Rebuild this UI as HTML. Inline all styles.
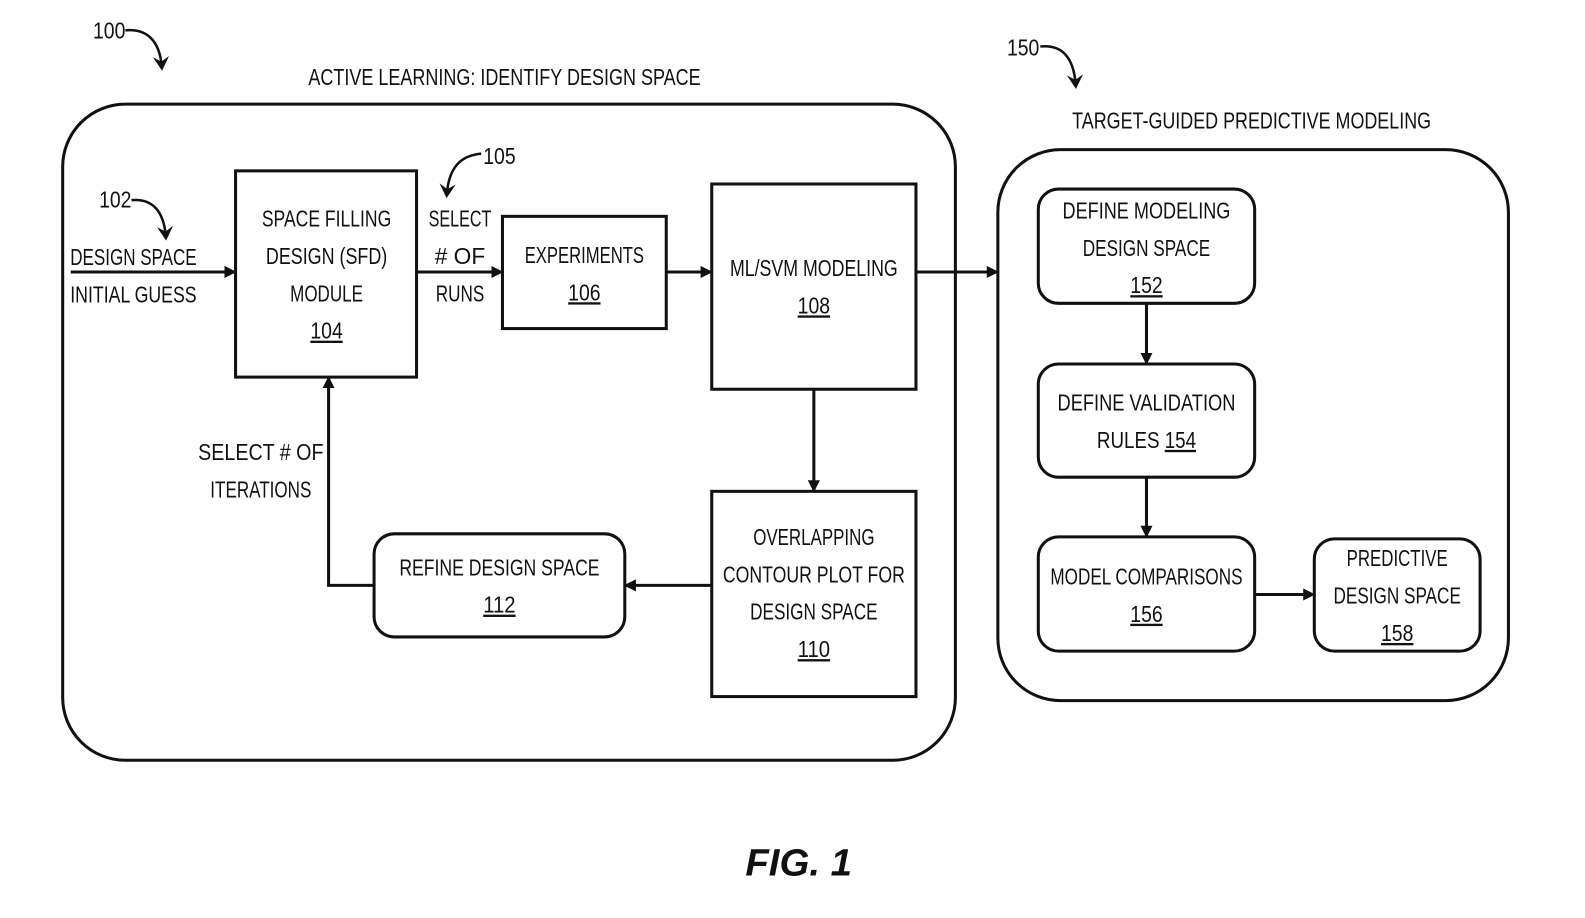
<!DOCTYPE html>
<html><head><meta charset="utf-8"><style>
html,body{margin:0;padding:0;background:#fff;}
svg{display:block;}
text{font-family:"Liberation Sans",sans-serif;font-size:23px;fill:#111;text-anchor:middle;}
</style></head><body>
<svg width="1585" height="918" viewBox="0 0 1585 918" xmlns="http://www.w3.org/2000/svg">
<defs>
<marker id="a" markerWidth="12" markerHeight="12" refX="11" refY="6" orient="auto" markerUnits="userSpaceOnUse">
<path d="M0,0 L12,6 L0,12 Z" fill="#111"/></marker>
<marker id="b" markerWidth="20" markerHeight="20" refX="10" refY="10" orient="auto" markerUnits="userSpaceOnUse">
<path d="M0,2 L14,10 L0,18 L5,10 Z" fill="#111"/></marker>
</defs>
<g transform="scale(1.011)">
<g fill="none" stroke="#111" stroke-width="3">
<rect x="62" y="103" width="883" height="649" rx="62"/>
<rect x="987" y="148" width="505" height="545" rx="62"/>
<rect x="233" y="169" width="179" height="204"/>
<rect x="497" y="214" width="162" height="111"/>
<rect x="704" y="182" width="202" height="203"/>
<rect x="704" y="486" width="202" height="203"/>
<rect x="370" y="528" width="248" height="102" rx="20"/>
<rect x="1027" y="187" width="214" height="113" rx="20"/>
<rect x="1027" y="360" width="214" height="112" rx="20"/>
<rect x="1027" y="531" width="214" height="113" rx="20"/>
<rect x="1300" y="533" width="164" height="111" rx="20"/>
</g>
<g stroke="#111" stroke-width="3" fill="none" marker-end="url(#a)">
<line x1="70" y1="269" x2="233" y2="269"/>
<line x1="412" y1="269" x2="497" y2="269"/>
<line x1="659" y1="269" x2="704" y2="269"/>
<line x1="906" y1="269" x2="987" y2="269"/>
<line x1="805" y1="385" x2="805" y2="486"/>
<line x1="704" y1="579" x2="618" y2="579"/>
<polyline points="370,579 325,579 325,373"/>
<line x1="1134" y1="300" x2="1134" y2="360"/>
<line x1="1134" y1="472" x2="1134" y2="531"/>
<line x1="1241" y1="588" x2="1300" y2="588"/>
</g>
<g stroke="#111" stroke-width="2.5" fill="none" marker-end="url(#b)">
<path d="M124,30 C145,28 158,40 160,66"/>
<path d="M1029,46 C1050,44 1062,56 1064,84"/>
<path d="M130,198 C150,196 162,208 164,234"/>
<path d="M476,152 C455,154 444,166 442,192"/>
</g>
<text x="108" y="38" textLength="32" lengthAdjust="spacingAndGlyphs">100</text>
<text x="1012" y="55" textLength="32" lengthAdjust="spacingAndGlyphs">150</text>
<text x="114" y="205" textLength="32" lengthAdjust="spacingAndGlyphs">102</text>
<text x="494" y="162" textLength="32" lengthAdjust="spacingAndGlyphs">105</text>
<text x="499" y="84" textLength="388" lengthAdjust="spacingAndGlyphs">ACTIVE LEARNING: IDENTIFY DESIGN SPACE</text>
<text x="1238" y="127" textLength="355" lengthAdjust="spacingAndGlyphs">TARGET-GUIDED PREDICTIVE MODELING</text>
<text x="132" y="262" textLength="125" lengthAdjust="spacingAndGlyphs">DESIGN SPACE</text>
<text x="132" y="299" textLength="125" lengthAdjust="spacingAndGlyphs">INITIAL GUESS</text>
<text x="455" y="224" textLength="62" lengthAdjust="spacingAndGlyphs">SELECT</text>
<text x="455" y="261" textLength="50" lengthAdjust="spacingAndGlyphs"># OF</text>
<text x="455" y="298" textLength="48" lengthAdjust="spacingAndGlyphs">RUNS</text>
<text x="258" y="455" textLength="124" lengthAdjust="spacingAndGlyphs">SELECT # OF</text>
<text x="258" y="492" textLength="100" lengthAdjust="spacingAndGlyphs">ITERATIONS</text>
<text x="323" y="224" textLength="128" lengthAdjust="spacingAndGlyphs">SPACE FILLING</text>
<text x="323" y="261" textLength="120" lengthAdjust="spacingAndGlyphs">DESIGN (SFD)</text>
<text x="323" y="298" textLength="72" lengthAdjust="spacingAndGlyphs">MODULE</text>
<text x="323" y="335" text-decoration="underline" textLength="32" lengthAdjust="spacingAndGlyphs">104</text>
<text x="578" y="260" textLength="118" lengthAdjust="spacingAndGlyphs">EXPERIMENTS</text>
<text x="578" y="297" text-decoration="underline" textLength="32" lengthAdjust="spacingAndGlyphs">106</text>
<text x="805" y="273" textLength="166" lengthAdjust="spacingAndGlyphs">ML/SVM MODELING</text>
<text x="805" y="310" text-decoration="underline" textLength="32" lengthAdjust="spacingAndGlyphs">108</text>
<text x="805" y="539" textLength="120" lengthAdjust="spacingAndGlyphs">OVERLAPPING</text>
<text x="805" y="576" textLength="180" lengthAdjust="spacingAndGlyphs">CONTOUR PLOT FOR</text>
<text x="805" y="613" textLength="126" lengthAdjust="spacingAndGlyphs">DESIGN SPACE</text>
<text x="805" y="650" text-decoration="underline" textLength="32" lengthAdjust="spacingAndGlyphs">110</text>
<text x="494" y="569" textLength="198" lengthAdjust="spacingAndGlyphs">REFINE DESIGN SPACE</text>
<text x="494" y="606" text-decoration="underline" textLength="32" lengthAdjust="spacingAndGlyphs">112</text>
<text x="1134" y="216" textLength="166" lengthAdjust="spacingAndGlyphs">DEFINE MODELING</text>
<text x="1134" y="253" textLength="126" lengthAdjust="spacingAndGlyphs">DESIGN SPACE</text>
<text x="1134" y="290" text-decoration="underline" textLength="32" lengthAdjust="spacingAndGlyphs">152</text>
<text x="1134" y="406" textLength="176" lengthAdjust="spacingAndGlyphs">DEFINE VALIDATION</text>
<text x="1134" y="443" textLength="98" lengthAdjust="spacingAndGlyphs">RULES <tspan text-decoration="underline">154</tspan></text>
<text x="1134" y="578" textLength="190" lengthAdjust="spacingAndGlyphs">MODEL COMPARISONS</text>
<text x="1134" y="615" text-decoration="underline" textLength="32" lengthAdjust="spacingAndGlyphs">156</text>
<text x="1382" y="560" textLength="100" lengthAdjust="spacingAndGlyphs">PREDICTIVE</text>
<text x="1382" y="597" textLength="126" lengthAdjust="spacingAndGlyphs">DESIGN SPACE</text>
<text x="1382" y="634" text-decoration="underline" textLength="32" lengthAdjust="spacingAndGlyphs">158</text>
<text x="790" y="866" style="font-size:38px;font-weight:bold;font-style:italic">FIG. 1</text>
</g>
</svg>
</body></html>
